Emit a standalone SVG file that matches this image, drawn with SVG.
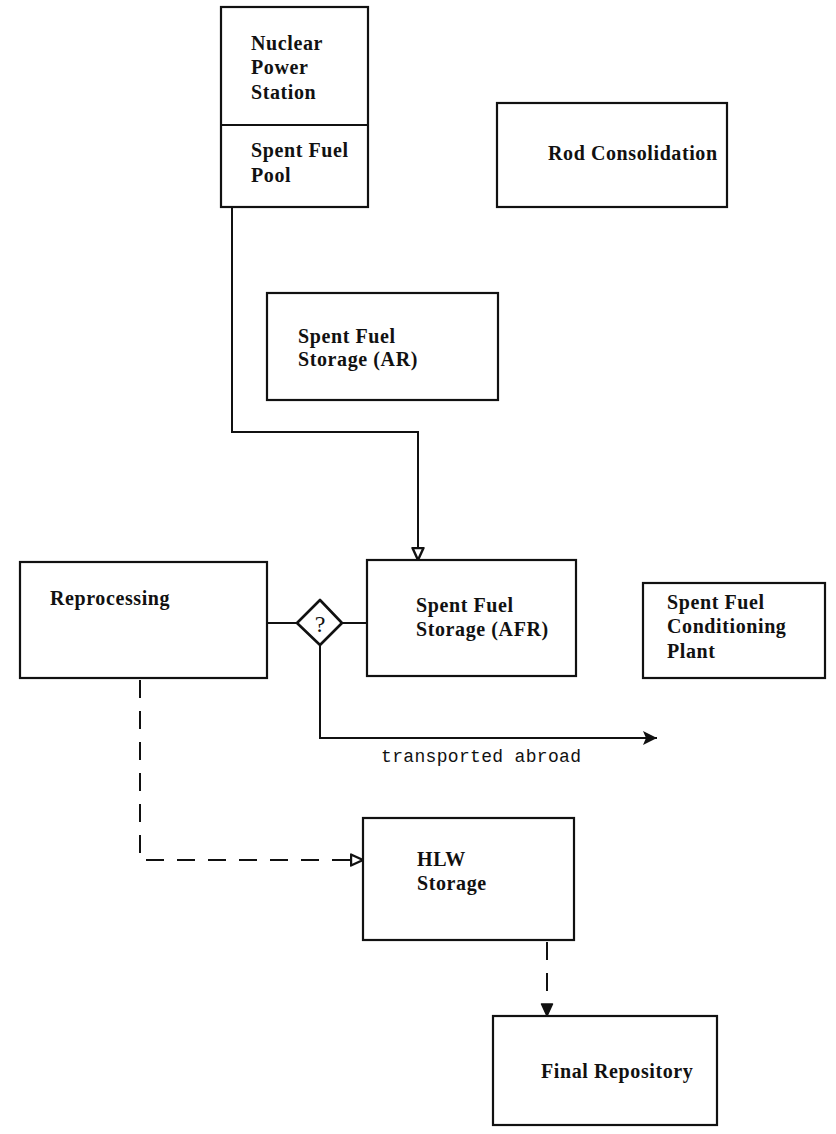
<svg xmlns="http://www.w3.org/2000/svg" width="836" height="1134" viewBox="0 0 836 1134">
  <defs>
    <style>
      .box { fill: #fff; stroke: #111; stroke-width: 2.2; }
      .lbl { font-family: "Liberation Serif", "DejaVu Serif", serif; font-weight: bold; font-size: 20px; fill: #111; letter-spacing: 0.6px; }
      .mono { font-family: "Liberation Mono", "DejaVu Sans Mono", monospace; font-size: 18px; fill: #111; }
      .line { fill: none; stroke: #111; stroke-width: 2; }
      .dash { fill: none; stroke: #111; stroke-width: 2; stroke-dasharray: 18 13; }
    </style>
    <!-- open triangular head with heavy outline -->
    <marker id="open-head" viewBox="0 0 14 14" refX="13" refY="7" markerWidth="14" markerHeight="14" markerUnits="userSpaceOnUse" orient="auto">
      <path d="M1,1.5 L13,7 L1,12.5 Z" fill="#fff" stroke="#111" stroke-width="2.4" stroke-linejoin="round"/>
    </marker>
    <!-- solid triangular head -->
    <marker id="solid-head" viewBox="0 0 16 16" refX="15" refY="8" markerWidth="16" markerHeight="16" markerUnits="userSpaceOnUse" orient="auto">
      <path d="M1,1 L15,8 L1,15 L4,8 Z" fill="#111"/>
    </marker>
    <marker id="fill-head" viewBox="0 0 14 14" refX="13" refY="7" markerWidth="14" markerHeight="14" markerUnits="userSpaceOnUse" orient="auto">
      <path d="M1,1.5 L13,7 L1,12.5 Z" fill="#111" stroke="#111" stroke-width="1.5" stroke-linejoin="round"/>
    </marker>
  </defs>

  <rect width="836" height="1134" fill="#fff"/>

  <!-- connectors -->
  <g id="connectors">
    <path class="line" d="M232,207 V432 H418 V560" marker-end="url(#open-head)"/>
    <path class="line" d="M267,623 H297"/>
    <path class="line" d="M342,623 H367"/>
    <path class="line" d="M320,645 V738 H657" marker-end="url(#solid-head)"/>
    <path class="dash" d="M140,680 V860 H363" marker-end="url(#open-head)"/>
    <path class="dash" d="M547,942 V1016" marker-end="url(#fill-head)"/>
  </g>

  <g id="nuclear-power-station">
    <rect class="box" x="221" y="7" width="147" height="200"/>
    <line x1="221" y1="125" x2="368" y2="125" stroke="#111" stroke-width="2.2"/>
    <text class="lbl" x="251" y="50">Nuclear</text>
    <text class="lbl" x="251" y="74">Power</text>
    <text class="lbl" x="251" y="99">Station</text>
    <text class="lbl" x="251" y="157">Spent Fuel</text>
    <text class="lbl" x="251" y="182">Pool</text>
  </g>

  <g id="rod-consolidation">
    <rect class="box" x="497" y="103" width="230" height="104"/>
    <text class="lbl" x="548" y="160">Rod Consolidation</text>
  </g>

  <g id="spent-fuel-storage-ar">
    <rect class="box" x="267" y="293" width="231" height="107"/>
    <text class="lbl" x="298" y="343">Spent Fuel</text>
    <text class="lbl" x="298" y="366">Storage (AR)</text>
  </g>

  <g id="reprocessing">
    <rect class="box" x="20" y="562" width="247" height="116"/>
    <text class="lbl" x="50" y="605">Reprocessing</text>
  </g>

  <g id="decision">
    <polygon points="297,623 320,600 342,623 320,645" fill="#fff" stroke="#111" stroke-width="2.6" stroke-linejoin="round"/>
    <text x="320" y="632" text-anchor="middle" font-family="Liberation Serif, serif" font-size="24" fill="#111">?</text>
  </g>

  <g id="spent-fuel-storage-afr">
    <rect class="box" x="367" y="560" width="209" height="116"/>
    <text class="lbl" x="416" y="612">Spent Fuel</text>
    <text class="lbl" x="416" y="636">Storage (AFR)</text>
  </g>

  <g id="conditioning-plant">
    <rect class="box" x="643" y="583" width="182" height="95"/>
    <text class="lbl" x="667" y="609">Spent Fuel</text>
    <text class="lbl" x="667" y="633">Conditioning</text>
    <text class="lbl" x="667" y="658">Plant</text>
  </g>

  <text class="mono" x="381" y="762" textLength="200">transported abroad</text>

  <g id="hlw-storage">
    <rect class="box" x="363" y="818" width="211" height="122"/>
    <text class="lbl" x="417" y="866">HLW</text>
    <text class="lbl" x="417" y="890">Storage</text>
  </g>

  <g id="final-repository">
    <rect class="box" x="493" y="1016" width="224" height="109"/>
    <text class="lbl" x="541" y="1078">Final Repository</text>
  </g>
</svg>
